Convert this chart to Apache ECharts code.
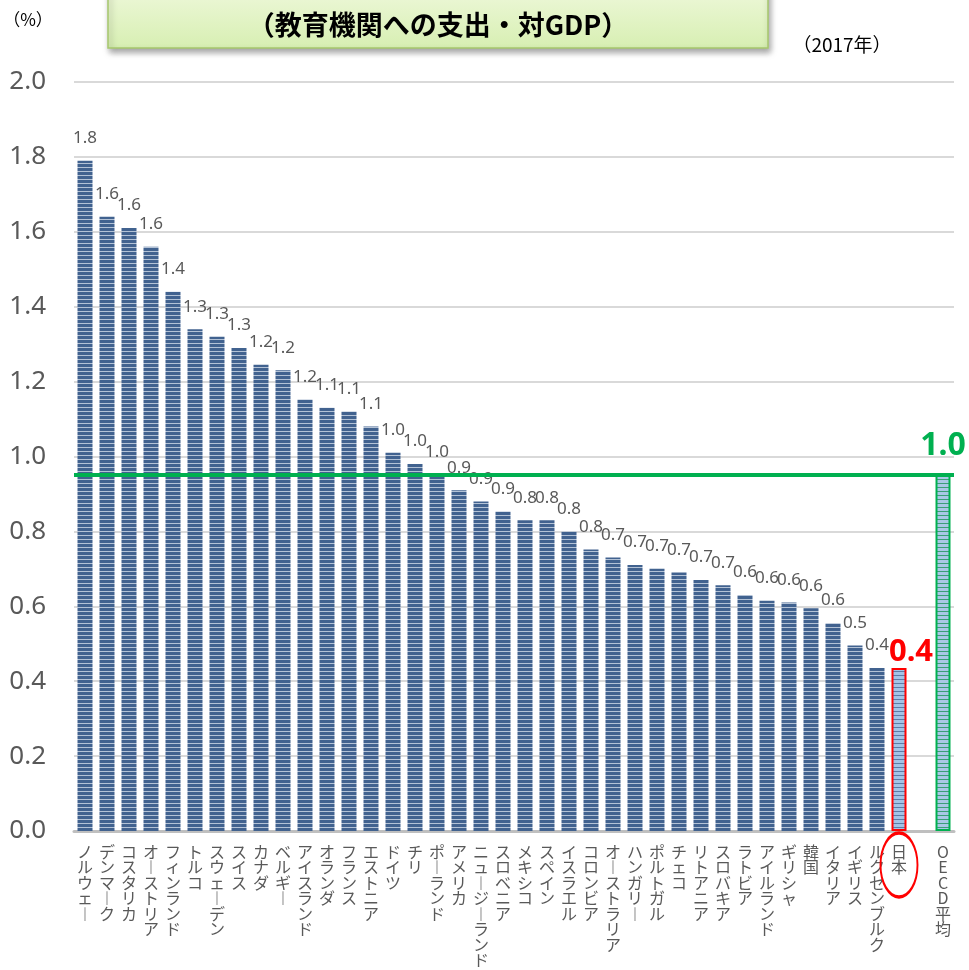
<!DOCTYPE html>
<html>
<head>
<meta charset="utf-8">
<script src="https://cdn.jsdelivr.net/npm/echarts@6/dist/echarts.min.js"></script>
<style>
  html, body { margin: 0; padding: 0; background: #fff; }
  #chart { width: 969px; height: 970px; }
</style>
</head>
<body>
<div id="chart"></div>
<script>
// 教育機関への支出・対GDP (2017年)
const countries = [
  'ノルウェー', 'デンマーク', 'コスタリカ', 'オーストリア', 'フィンランド', 'トルコ', 'スウェーデン',
  'スイス', 'カナダ', 'ベルギー', 'アイスランド', 'オランダ', 'フランス', 'エストニア', 'ドイツ',
  'チリ', 'ポーランド', 'アメリカ', 'ニュージーランド', 'スロベニア', 'メキシコ', 'スペイン',
  'イスラエル', 'コロンビア', 'オーストラリア', 'ハンガリー', 'ポルトガル', 'チェコ', 'リトアニア',
  'スロバキア', 'ラトビア', 'アイルランド', 'ギリシャ', '韓国', 'イタリア', 'イギリス',
  'ルクセンブルク', '日本', '', 'OECD平均'
];
const values = [
  1.79, 1.64, 1.61, 1.56, 1.44, 1.34, 1.32,
  1.29, 1.245, 1.23, 1.152, 1.13, 1.12, 1.08, 1.01,
  0.98, 0.951, 0.91, 0.88, 0.853, 0.83, 0.83,
  0.80, 0.752, 0.73, 0.71, 0.70, 0.69, 0.67,
  0.656, 0.63, 0.615, 0.61, 0.595, 0.555, 0.495,
  0.435, 0.435, null, 0.955
];
const yMin = 0;
const yMax = 2.0;
const yStep = 0.2;

const JAPAN = '日本';
const OECD = 'OECD平均';
const oecdValue = values[countries.indexOf(OECD)];

function stripes(bg, line) {
  const c = document.createElement('canvas');
  c.width = 4;
  c.height = 4;
  const ctx = c.getContext('2d');
  ctx.fillStyle = bg;
  ctx.fillRect(0, 0, 4, 4);
  ctx.fillStyle = line;
  ctx.fillRect(0, 3, 4, 1);
  return { image: c, repeat: 'repeat' };
}

const barPattern = stripes('#41628f', '#b3c2d6');
const japanPattern = stripes('#a3c3e6', '#5d7ba6');
const oecdPattern = stripes('#a9c8e6', '#3c9e78');

const seriesData = values.map((v, i) => {
  const name = countries[i];
  if (name === JAPAN) {
    return {
      value: v,
      itemStyle: { color: japanPattern, borderColor: '#ff0000', borderWidth: 2 },
      label: { fontSize: 31, fontWeight: 'bold', color: '#ff0000', distance: 0, offset: [12, 0] },
    };
  }
  if (name === OECD) {
    return {
      value: v,
      itemStyle: { color: oecdPattern, borderColor: '#00b050', borderWidth: 2 },
      label: { fontSize: 32, fontWeight: 'bold', color: '#00b050', distance: 11 },
    };
  }
  return v;
});

const chart = echarts.init(document.getElementById('chart'));

const option = {
  animation: false,
  grid: { left: 74, right: 15, top: 82, bottom: 139 },
  xAxis: {
    type: 'category',
    data: countries,
    axisTick: { show: false },
    axisLine: { lineStyle: { color: '#bfbfbf', width: 3 } },
    axisLabel: {
      interval: 0,
      margin: 13,
      color: '#595959',
      fontSize: 16,
      lineHeight: 15.5,
      fontFamily: '"Noto Sans CJK JP", sans-serif',
      verticalAlign: 'top',
      formatter: (name) => name.split('').map(c => (c === 'ー' ? '︱' : c)).join('\n'),
    },
  },
  yAxis: {
    type: 'value',
    min: yMin,
    max: yMax,
    interval: yStep,
    axisLine: { show: false },
    axisTick: { show: false },
    splitLine: { lineStyle: { color: '#d9d9d9', width: 2 } },
    axisLabel: {
      margin: 28,
      color: '#595959',
      fontSize: 26,
      fontFamily: '"Noto Sans", sans-serif',
      formatter: (v) => v.toFixed(1),
    },
  },
  series: [
    {
      type: 'bar',
      data: seriesData,
      barWidth: 15,
      clip: false,
      itemStyle: { color: barPattern },
      label: {
        show: true,
        position: 'top',
        distance: 14,
        color: '#595959',
        fontSize: 17,
        fontFamily: '"Noto Sans", sans-serif',
        formatter: (p) => (p.value == null ? '' : p.value.toFixed(1)),
      },
      markLine: {
        silent: true,
        symbol: 'none',
        label: { show: false },
        lineStyle: { color: '#00b050', width: 4, type: 'solid' },
        data: [{ yAxis: oecdValue }],
      },
      markPoint: {
        silent: true,
        label: { show: false },
        data: [
          {
            coord: [JAPAN, 0],
            symbol: 'circle',
            symbolSize: [37, 64],
            symbolOffset: [0, 34],
            itemStyle: { color: 'rgba(0,0,0,0)', borderColor: '#ff0000', borderWidth: 2.5 },
          },
        ],
      },
    },
  ],
  graphic: [
    {
      type: 'rect',
      shape: { x: 108, y: -20, width: 660, height: 68 },
      style: {
        fill: new echarts.graphic.LinearGradient(0, 0, 0, 1, [
          { offset: 0, color: '#f1f9df' },
          { offset: 1, color: '#d7efb2' },
        ]),
        stroke: '#a6c76c',
        lineWidth: 1.5,
        shadowBlur: 6,
        shadowOffsetX: 2,
        shadowOffsetY: 4,
        shadowColor: 'rgba(0,0,0,0.35)',
      },
    },
    {
      type: 'text',
      style: {
        text: '（教育機関への支出・対GDP）',
        x: 438,
        y: 25,
        align: 'center',
        verticalAlign: 'middle',
        fontSize: 27,
        fontWeight: 'bold',
        fontFamily: '"Noto Sans CJK JP", sans-serif',
        fill: '#000',
      },
    },
    {
      type: 'text',
      style: {
        text: '（%）',
        x: 28,
        y: 20,
        align: 'center',
        verticalAlign: 'middle',
        fontSize: 17,
        fontFamily: '"Noto Sans CJK JP", sans-serif',
        fill: '#000',
      },
    },
    {
      type: 'text',
      style: {
        text: '（2017年）',
        x: 842,
        y: 45,
        align: 'center',
        verticalAlign: 'middle',
        fontSize: 19,
        fontFamily: '"Noto Sans CJK JP", sans-serif',
        fill: '#000',
      },
    },
  ],
};

chart.setOption(option);
</script>
</body>
</html>
